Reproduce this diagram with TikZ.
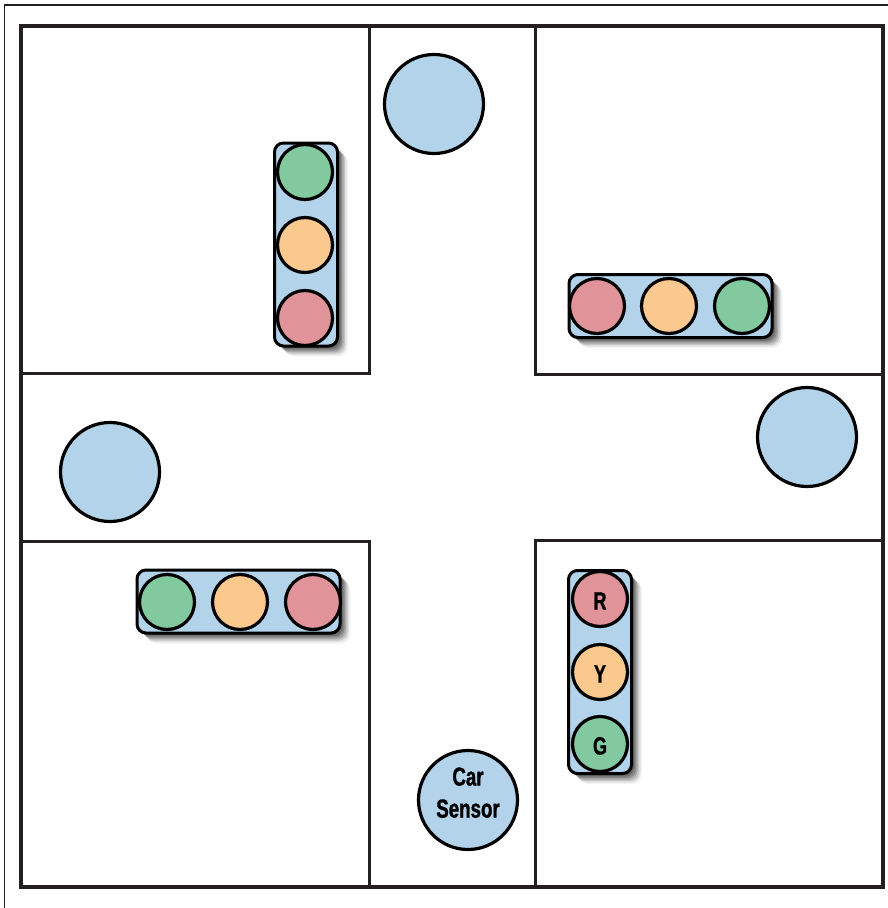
\documentclass[tikz,border=0pt]{standalone}
\usepackage{fontspec}
\newfontfamily\labelfont[FakeStretch=0.72,FakeBold=1.2]{Liberation Sans Bold}
\usetikzlibrary{shadows}

\definecolor{roadline}{HTML}{231F20}
\definecolor{sensorblue}{HTML}{B3D3EB}
\definecolor{lightred}{HTML}{E09499}
\definecolor{lightyellow}{HTML}{FBC88E}
\definecolor{lightgreen}{HTML}{82C9A0}

\begin{document}
\begin{tikzpicture}[x=1pt,y=-1pt]
  \tikzset{
    roadedge/.style={draw=roadline,line width=3pt},
    softshadow/.style={
      general shadow={shadow xshift=1.5pt,shadow yshift=-1.5pt,fill=black,opacity=.22},
      general shadow={shadow xshift=3pt,shadow yshift=-3pt,fill=black,opacity=.2},
      general shadow={shadow xshift=4.5pt,shadow yshift=-4.5pt,fill=black,opacity=.18},
      general shadow={shadow xshift=6pt,shadow yshift=-6pt,fill=black,opacity=.15},
      general shadow={shadow xshift=7.5pt,shadow yshift=-7.5pt,fill=black,opacity=.12},
      general shadow={shadow xshift=9pt,shadow yshift=-9pt,fill=black,opacity=.08},
      general shadow={shadow xshift=10.5pt,shadow yshift=-10.5pt,fill=black,opacity=.04}},
    lighthouse/.style={draw=black,line width=3pt,rounded corners=9pt,fill=sensorblue,softshadow,inner sep=0pt,outer sep=0pt},
    upright/.style={lighthouse,minimum width=63pt,minimum height=203pt},
    sideways/.style={lighthouse,minimum width=203pt,minimum height=63pt},
    lamp/.style={circle,draw=black,line width=3.2pt,minimum size=55pt,inner sep=0pt,outer sep=0pt,text height=21pt,text depth=0pt,font=\fontsize{25}{32}\selectfont\labelfont},
    redlamp/.style={lamp,fill=lightred},
    yellowlamp/.style={lamp,fill=lightyellow},
    greenlamp/.style={lamp,fill=lightgreen},
    sensor/.style={circle,draw=black,line width=3.2pt,fill=sensorblue,minimum size=99pt,inner sep=0pt,outer sep=0pt,align=center,font=\fontsize{26}{32}\selectfont\labelfont}
  }

  \useasboundingbox (0,0) rectangle (888,908);
  \fill[white] (0,0) rectangle (888,908);

  % page edge
  \draw[roadline,line width=1.1pt] (4.5,908) -- (4.5,5) -- (888,5);

  % blocks
  \draw[roadedge] (21,373) -- (369,373) -- (369,26);
  \draw[roadedge] (535,26) -- (535,374) -- (883,374);
  \draw[roadedge] (21,541) -- (369,541) -- (369,887);
  \draw[roadedge] (883,540) -- (535,540) -- (535,887);
  \draw[roadline,line width=4pt] (21,26) rectangle (883,887);

  % sensors
  \node[sensor] (north) at (434,104) {};
  \node[sensor] (east) at (807,437) {};
  \node[sensor] (west) at (110,472) {};
  \node[sensor,text depth=15pt] (south) at (468,800) {Car\\Sensor};

  % north light
  \node[upright] (nbox) at (306,244.5) {};
  \node[greenlamp] (ng) at (305,172) {};
  \node[yellowlamp] (ny) at (305,245) {};
  \node[redlamp] (nr) at (305,318) {};

  % east light
  \node[sideways] (ebox) at (670.5,306) {};
  \node[redlamp] (er) at (597,306) {};
  \node[yellowlamp] (ey) at (669,306) {};
  \node[greenlamp] (eg) at (742,306) {};

  % west light
  \node[sideways] (wbox) at (238.5,601.5) {};
  \node[greenlamp] (wg) at (167,602) {};
  \node[yellowlamp] (wy) at (240,602) {};
  \node[redlamp] (wr) at (313,602) {};

  % south light
  \node[upright] (sbox) at (600,672) {};
  \node[redlamp] (sr) at (600,599) {R};
  \node[yellowlamp] (sy) at (600,672) {Y};
  \node[greenlamp] (sg) at (600,744) {G};
\end{tikzpicture}
\end{document}
